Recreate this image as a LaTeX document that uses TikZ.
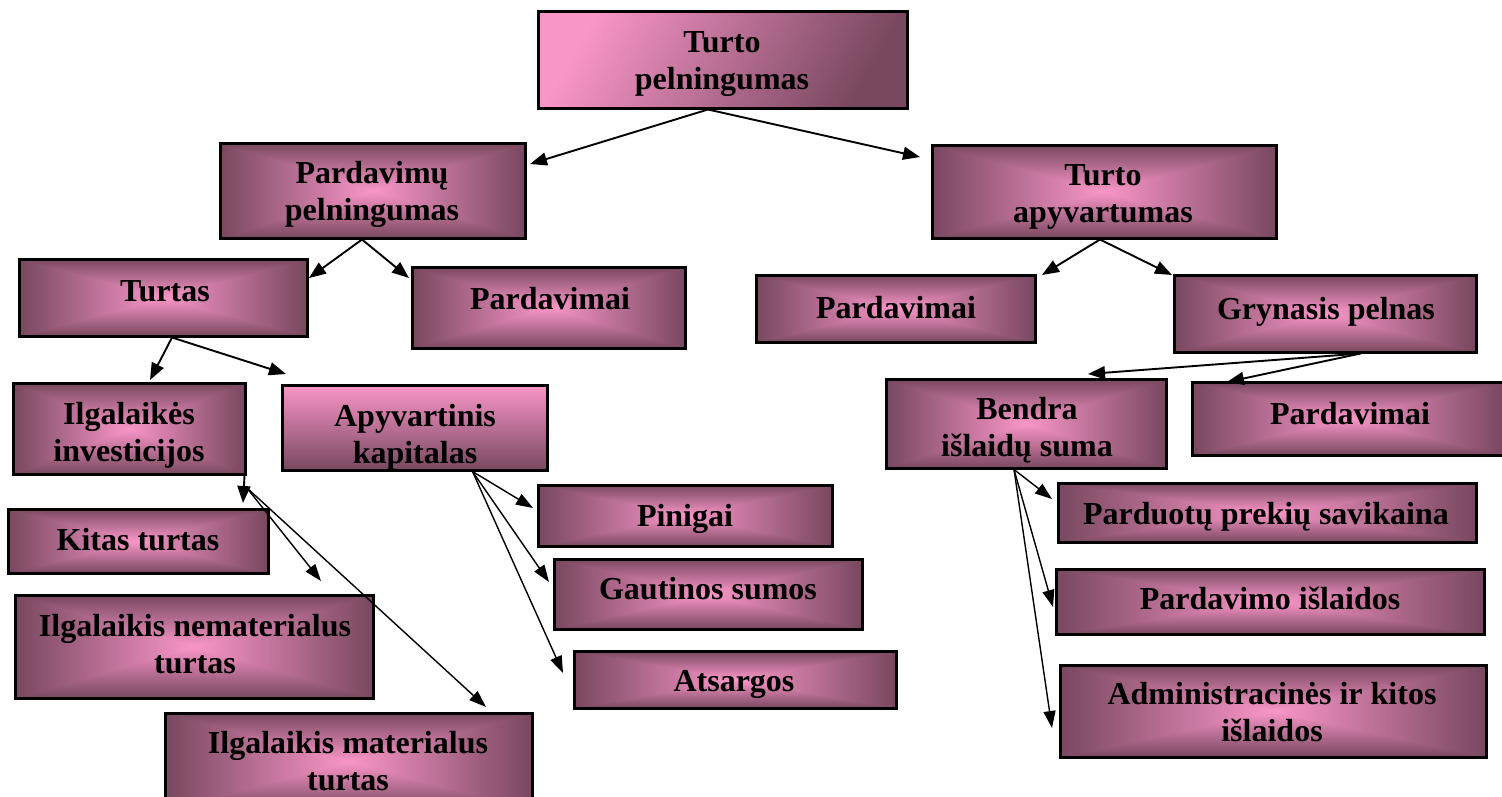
\documentclass[tikz,border=0pt]{standalone}
\usepackage{fontspec}
\setmainfont{Liberation Serif}
\usetikzlibrary{arrows.meta,calc}
\definecolor{pinkc}{RGB}{249,150,200}
\definecolor{darkc}{RGB}{120,72,95}
\pgfdeclarefunctionalshading{rectgrad}{\pgfpoint{-50bp}{-50bp}}{\pgfpoint{50bp}{50bp}}{}{
abs exch abs 2 copy lt {exch} if pop 25 div dup 1 gt {pop 1} if
dup -0.506 mul 0.976 add
exch dup -0.306 mul 0.588 add
exch -0.412 mul 0.784 add
}
\tikzset{
  box/.style={draw=black, line width=3pt, rectangle, inner sep=0pt, shading=rectgrad},
  diagbox/.style={draw=black, line width=3pt, rectangle, inner sep=0pt,
    top color=pinkc, bottom color=darkc, shading angle=60},
  vertbox/.style={draw=black, line width=3pt, rectangle, inner sep=0pt,
    top color=pinkc, bottom color=darkc},
  lbl/.style={font=\bfseries\fontsize{32}{36.5}\selectfont, align=center, anchor=base, inner sep=0pt},
  arr/.style={line width=1.9pt, -{Triangle[length=17pt,width=13pt]}},
  arrthin/.style={line width=1.4pt, -{Triangle[length=17pt,width=12pt]}},
}
% box: name, style, x1, y1, x2, y2
\newcommand\mybox[6]{\node[#2, minimum width={(#5-#3)*1pt}, minimum height={(#6-#4)*1pt}] (#1) at ({(#3+#5)/2},{(#4+#6)/2}) {};}
\begin{document}
\begin{tikzpicture}[x=1pt,y=-1pt]
\useasboundingbox (0,0) rectangle (1502,796);
% boxes
\mybox{tp}{diagbox}{538}{11}{907}{108}
\mybox{pp}{box}{220}{143}{525}{238}
\mybox{ta}{box}{932}{145}{1276}{238}
\mybox{tu}{box}{19}{259}{307}{336}
\mybox{paA}{box}{412}{267}{685}{348}
\mybox{paB}{box}{756}{275}{1035}{342}
\mybox{gp}{box}{1174}{275}{1476}{352}
\mybox{ii}{box}{13}{383}{245}{474}
\mybox{ak}{vertbox}{282}{385}{547}{470}
\mybox{bs}{box}{886}{379}{1166}{468}
\mybox{paC}{box}{1192}{382}{1504}{455}
\mybox{kt}{box}{8}{509}{268}{573}
\mybox{pi}{box}{538}{485}{832}{546}
\mybox{gs}{box}{554}{559}{862}{629}
\mybox{at}{box}{574}{651}{896}{708}
\mybox{inm}{box}{15}{595}{373}{698}
\mybox{im}{box}{165}{713}{532}{810}
\mybox{pps}{box}{1058}{483}{1476}{542}
\mybox{pis}{box}{1056}{569}{1484}{634}
\mybox{aki}{box}{1060}{665}{1486}{757}
% texts (base = baseline of the last line)
\node[lbl] (tpT) at (722,89) {Turto\\pelningumas};
\node[lbl] (ppT) at (372,220) {Pardavimų\\pelningumas};
\node[lbl] (taT) at (1103,222) {Turto\\apyvartumas};
\node[lbl] (tuT) at (165,301) {Turtas};
\node[lbl] (paAT) at (550,309) {Pardavimai};
\node[lbl] (paBT) at (896,318) {Pardavimai};
\node[lbl] (gpT) at (1326,319) {Grynasis pelnas};
\begin{scope}
\clip (ii.south west) rectangle (ii.north east);
\node[lbl] (iiT) at (129,461) {Ilgalaikės\\investicijos};
\end{scope}
\begin{scope}
\clip (ak.south west) rectangle (ak.north east);
\node[lbl] (akT) at (415,463) {Apyvartinis\\kapitalas};
\end{scope}
\node[lbl] (bsT) at (1027,456) {Bendra\\išlaidų suma};
\node[lbl] (paCT) at (1350,424) {Pardavimai};
\node[lbl] (ktT) at (138,550) {Kitas turtas};
\node[lbl] (piT) at (685,526) {Pinigai};
\node[lbl] (gsT) at (708,599) {Gautinos sumos};
\node[lbl] (atT) at (734,691) {Atsargos};
\node[lbl] (inmT) at (195,673) {Ilgalaikis nematerialus\\turtas};
\node[lbl] (imT) at (348,790) {Ilgalaikis materialus\\turtas};
\node[lbl] (ppsT) at (1266,524) {Parduotų prekių savikaina};
\node[lbl] (pisT) at (1270,609) {Pardavimo išlaidos};
\node[lbl] (akiT) at (1272,741) {Administracinės ir kitos\\išlaidos};
% arrow start points on boxes
\coordinate (tpS) at ([xshift=-14.5pt]tp.south);
\coordinate (ppS) at ([xshift=-10.5pt]pp.south);
\coordinate (taS) at ([xshift=-4pt]ta.south);
\coordinate (tuS) at ([xshift=9pt]tu.south);
\coordinate (gpS) at ([xshift=-117pt]gp.south east);
\coordinate (iiS) at ([yshift=-12pt]ii.south east);
\coordinate (iiB) at ([xshift=-2pt]ii.south east);
\coordinate (akS) at ([xshift=-76pt]ak.south east);
\coordinate (bsS) at ([xshift=-12pt]bs.south);
% arrow tips
\coordinate (t1) at (530,164);
\coordinate (t2) at (920,157);
\coordinate (t3) at (309,278);
\coordinate (t4) at (409,278);
\coordinate (t5) at (1042,275);
\coordinate (t6) at (1172,275);
\coordinate (t7) at (150,380);
\coordinate (t8) at (286,374);
\coordinate (t9) at (1088,374);
\coordinate (t10) at (1227,382);
\coordinate (t11) at (243,503);
\coordinate (t12) at (321,581);
\coordinate (t13) at (486,707);
\coordinate (t14) at (533,508);
\coordinate (t15) at (549,582);
\coordinate (t16) at (563,673);
\coordinate (t17) at (1052,499);
\coordinate (t18) at (1053,607);
\coordinate (t19) at (1052,728);
% connectors
\draw[arr] (tpS) -- (t1);
\draw[arr] (tpS) -- (t2);
\draw[arr] (ppS) -- (t3);
\draw[arr] (ppS) -- (t4);
\draw[arr] (taS) -- (t5);
\draw[arr] (taS) -- (t6);
\draw[arr] (tuS) -- (t7);
\draw[arr] (tuS) -- (t8);
\draw[arr] (gpS) -- (t9);
\draw[arr] (gpS) -- (t10);
\draw[arr] (iiB) -- (t11);
\draw[arrthin] (iiS) -- (t12);
\draw[arrthin] (iiS) -- (t13);
\draw[arrthin] (akS) -- (t14);
\draw[arrthin] (akS) -- (t15);
\draw[arrthin] (akS) -- (t16);
\draw[arrthin] (bsS) -- (t17);
\draw[arrthin] (bsS) -- (t18);
\draw[arrthin] (bsS) -- (t19);
\end{tikzpicture}
\end{document}
